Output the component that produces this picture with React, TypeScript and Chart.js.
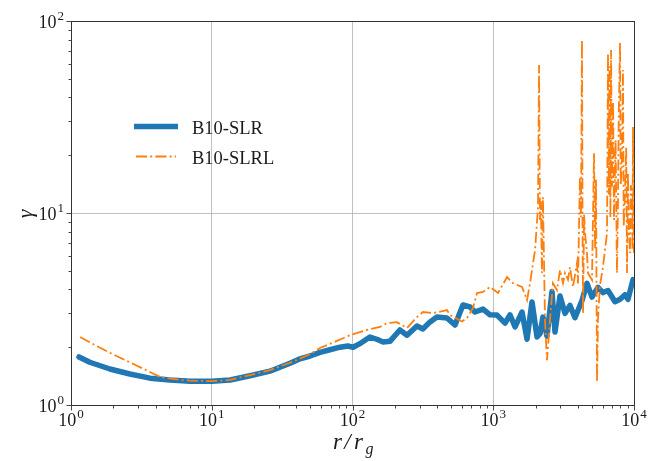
import React, { useEffect, useRef } from "react";
import { Chart, registerables } from "chart.js";

Chart.register(...registerables);

// ---- Data ----
const seriesNames = ["B10-SLR", "B10-SLRL"];

const blueX = [1.14, 1.36, 1.89, 2.62, 3.64, 5.05, 7.0, 10.0, 13.5, 18.7, 25.9, 36, 42.4, 50, 58.8, 69, 81.5, 92.6, 101, 112, 133, 149, 165, 185, 217, 244, 287, 317, 354, 398, 469, 535, 609, 684, 742, 846, 948, 1064, 1213, 1315, 1429, 1601, 1738, 1885, 2047, 2148, 2254, 2409, 2614, 2746, 2981, 3236, 3510, 3808, 4271, 4634, 5030, 5546, 6020, 6535, 7330, 7960, 8630, 9060, 9840];
const blueY = [1.78, 1.67, 1.54, 1.45, 1.38, 1.35, 1.33, 1.33, 1.35, 1.42, 1.5, 1.65, 1.74, 1.8, 1.88, 1.94, 2.0, 2.03, 2.0, 2.08, 2.26, 2.2, 2.13, 2.15, 2.46, 2.31, 2.58, 2.49, 2.7, 2.87, 2.84, 2.61, 3.32, 3.24, 3.05, 3.16, 2.95, 2.94, 2.67, 2.95, 2.55, 3.05, 2.2, 3.44, 2.26, 2.35, 2.87, 2.28, 3.9, 2.4, 3.7, 3.0, 3.3, 2.85, 3.5, 4.3, 3.65, 4.1, 3.85, 3.95, 3.45, 3.55, 3.75, 3.55, 4.5];

const orangeX = [1.16, 1.48, 1.89, 2.85, 4.29, 5.95, 7.0, 10, 13.5, 18.7, 25.9, 36, 50, 58.8, 69, 96, 127, 157, 176, 207, 244, 287, 317, 373, 469, 493, 600, 651, 718, 767, 846, 948, 1081, 1253, 1381, 1601, 1738, 1824, 1981, 2080, 2115, 2148, 2180, 2218, 2254, 2332, 2409, 2529, 2655, 2837, 2981, 3131, 3236, 3397, 3510, 3686, 3936, 4000, 4130, 4200, 4271, 4310, 4345, 4420, 4487, 4634, 4710, 5030, 5200, 5290, 5370, 5460, 5546, 5730, 6020, 6430, 6500, 6535, 6620, 6700, 6800, 6870, 6980, 7100, 7210, 7400, 7570, 7690, 7800, 7960, 8050, 8220, 8350, 8450, 8630, 8800, 8920, 9060, 9200, 9370, 9500, 9680, 9760, 9840, 9920, 10000];
const orangeY = [2.26, 2.05, 1.87, 1.62, 1.4, 1.35, 1.34, 1.33, 1.35, 1.43, 1.52, 1.66, 1.84, 1.98, 2.08, 2.31, 2.46, 2.55, 2.67, 2.7, 2.52, 2.87, 3.05, 3.01, 3.12, 2.94, 2.72, 2.84, 3.2, 3.83, 3.88, 4.12, 3.83, 4.64, 4.31, 4.12, 3.52, 4.3, 6.41, 10.7, 59, 9.2, 11.5, 4.87, 12.1, 2.77, 1.71, 2.77, 4.31, 3.97, 5.05, 4.31, 4.87, 4.5, 5.23, 4.12, 5.49, 4.3, 15.4, 9.5, 79.6, 8.16, 3.0, 9.8, 7.87, 6.19, 4.87, 4.48, 20.5, 6.5, 14.9, 1.32, 2.77, 4.2, 5.23, 7.87, 32, 68.1, 12.5, 58, 9.5, 70.6, 13.7, 38, 9.2, 24, 4.87, 10.7, 34, 76.8, 14, 18.9, 55.6, 8.5, 12.7, 22, 4.87, 16.2, 8.2, 6.19, 14, 11.3, 6.4, 28.1, 9.5, 6.19];

const xTicks = [1, 10, 100, 1000, 10000];
const xTickExps = ["0", "1", "2", "3", "4"];
const yTicks = [1, 10, 100];
const yTickExps = ["0", "1", "2"];
const minorMultipliers = [2, 3, 4, 5, 6, 7, 8, 9];

const BLUE = "#1f77b4";
const ORANGE = "#ff7f0e";
const TEXT = "#1a1a1a";
const SERIF = '"Liberation Serif", "Times New Roman", serif';

function drawPow(ctx: CanvasRenderingContext2D, exp: string, x: number, yBase: number, align: "center" | "right") {
  const main = `18px ${SERIF}`;
  const sup = `13px ${SERIF}`;
  ctx.font = main;
  const w1 = ctx.measureText("10").width;
  ctx.font = sup;
  const w2 = ctx.measureText(exp).width;
  const total = w1 + 1 + w2;
  const sx = align === "center" ? x - total / 2 : x - total;
  ctx.textAlign = "left";
  ctx.textBaseline = "alphabetic";
  ctx.fillStyle = TEXT;
  ctx.font = main;
  ctx.fillText("10", sx, yBase);
  ctx.font = sup;
  ctx.fillText(exp, sx + w1 + 1, yBase - 8);
}

const decorPlugin = {
  id: "decor",
  afterDraw(chart: any) {
    const ctx: CanvasRenderingContext2D = chart.ctx;
    const a = chart.chartArea;
    const xs = chart.scales.x;
    const ys = chart.scales.y;
    ctx.save();

    // frame
    ctx.strokeStyle = "#333";
    ctx.lineWidth = 1;
    ctx.setLineDash([]);
    ctx.strokeRect(Math.round(a.left) + 0.5, Math.round(a.top) + 0.5, Math.round(a.right - a.left), Math.round(a.bottom - a.top));

    // tick marks
    ctx.lineWidth = 0.9;
    const xMinors: number[] = [];
    xTicks.slice(0, -1).forEach((d) => minorMultipliers.forEach((m) => xMinors.push(d * m)));
    const yMinors: number[] = [];
    yTicks.slice(0, -1).forEach((d) => minorMultipliers.forEach((m) => yMinors.push(d * m)));
    const bottom = Math.round(a.bottom) + 0.5;
    const left = Math.round(a.left) + 0.5;
    ctx.beginPath();
    xTicks.forEach((v) => {
      const p = Math.round(xs.getPixelForValue(v)) + 0.5;
      ctx.moveTo(p, bottom);
      ctx.lineTo(p, bottom + 5);
    });
    xMinors.forEach((v) => {
      const p = Math.round(xs.getPixelForValue(v)) + 0.5;
      ctx.moveTo(p, bottom);
      ctx.lineTo(p, bottom + 3);
    });
    yTicks.forEach((v) => {
      const p = Math.round(ys.getPixelForValue(v)) + 0.5;
      ctx.moveTo(left, p);
      ctx.lineTo(left - 5, p);
    });
    yMinors.forEach((v) => {
      const p = Math.round(ys.getPixelForValue(v)) + 0.5;
      ctx.moveTo(left, p);
      ctx.lineTo(left - 3, p);
    });
    ctx.stroke();

    // tick labels
    xTicks.forEach((v, i) => drawPow(ctx, xTickExps[i], xs.getPixelForValue(v), a.bottom + 21, "center"));
    yTicks.forEach((v, i) => drawPow(ctx, yTickExps[i], a.left - 7, ys.getPixelForValue(v) + 7, "right"));

    // y title
    ctx.save();
    ctx.translate(26, (a.top + a.bottom) / 2 + 1);
    ctx.rotate(-Math.PI / 2);
    ctx.font = `italic 22px ${SERIF}`;
    ctx.textAlign = "center";
    ctx.textBaseline = "middle";
    ctx.fillStyle = TEXT;
    ctx.fillText("γ", 0, 0);
    ctx.restore();

    // x title  r/r_g
    ctx.fillStyle = TEXT;
    ctx.textAlign = "center";
    ctx.textBaseline = "alphabetic";
    ctx.font = `italic 23px ${SERIF}`;
    ctx.fillText("r", 337.5, 449);
    ctx.fillText("/", 347.5, 449);
    ctx.fillText("r", 358.5, 449);
    ctx.font = `italic 16px ${SERIF}`;
    ctx.fillText("g", 369.5, 454);

    // legend
    ctx.lineCap = "butt";
    ctx.strokeStyle = BLUE;
    ctx.lineWidth = 5.5;
    ctx.beginPath();
    ctx.moveTo(134, 126.5);
    ctx.lineTo(178, 126.5);
    ctx.stroke();
    ctx.strokeStyle = ORANGE;
    ctx.lineWidth = 1.8;
    ctx.setLineDash([11, 3.2, 2, 3.2]);
    ctx.beginPath();
    ctx.moveTo(136, 156.5);
    ctx.lineTo(176, 156.5);
    ctx.stroke();
    ctx.setLineDash([]);
    ctx.font = `18.5px ${SERIF}`;
    ctx.textAlign = "left";
    ctx.fillStyle = TEXT;
    ctx.fillText(seriesNames[0], 192, 134);
    ctx.fillText(seriesNames[1], 192, 164);

    ctx.restore();
  },
};

export default function App() {
  const ref = useRef<HTMLCanvasElement | null>(null);

  useEffect(() => {
    if (!ref.current) return;
    const chart = new Chart(ref.current, {
      type: "line",
      data: {
        datasets: [
          {
            label: seriesNames[0],
            data: blueX.map((x, i) => ({ x, y: blueY[i] })),
            borderColor: BLUE,
            backgroundColor: BLUE,
            borderWidth: 5.5,
            pointRadius: 0,
            tension: 0,
            borderJoinStyle: "round",
            borderCapStyle: "round",
            order: 2,
          },
          {
            label: seriesNames[1],
            data: orangeX.map((x, i) => ({ x, y: orangeY[i] })),
            borderColor: ORANGE,
            backgroundColor: ORANGE,
            borderWidth: 1.8,
            borderDash: [11, 3.2, 2, 3.2],
            pointRadius: 0,
            tension: 0,
            order: 1,
          },
        ],
      },
      options: {
        responsive: false,
        animation: false,
        layout: { padding: { top: 21, right: 26, left: 0, bottom: 0 } },
        plugins: { legend: { display: false }, tooltip: { enabled: false } },
        scales: {
          x: {
            type: "logarithmic",
            min: 1,
            max: 10000,
            afterBuildTicks: (s: any) => {
              s.ticks = xTicks.map((v) => ({ value: v }));
            },
            afterFit: (s: any) => {
              s.height = 56;
            },
            ticks: { display: false },
            grid: { color: "#b0b0b0", lineWidth: 0.8, drawTicks: false },
            border: { display: false },
          },
          y: {
            type: "logarithmic",
            min: 1,
            max: 100,
            afterBuildTicks: (s: any) => {
              s.ticks = yTicks.map((v) => ({ value: v }));
            },
            afterFit: (s: any) => {
              s.width = 71;
            },
            ticks: { display: false },
            grid: { color: "#b0b0b0", lineWidth: 0.8, drawTicks: false },
            border: { display: false },
          },
        },
      },
      plugins: [decorPlugin],
    } as any);
    return () => chart.destroy();
  }, []);

  return (
    <div style={{ position: "fixed", left: 0, top: 0, width: 660, height: 461, background: "#fff" }}>
      <canvas ref={ref} width={660} height={461} style={{ display: "block" }} />
    </div>
  );
}
